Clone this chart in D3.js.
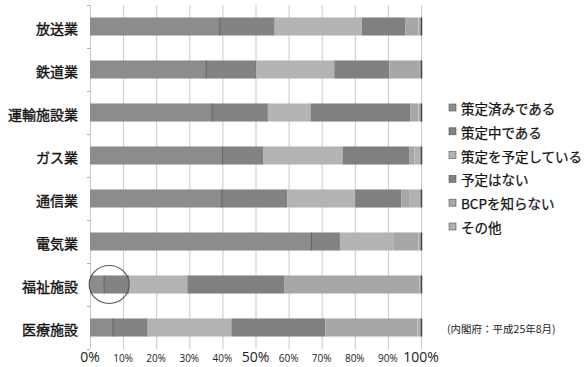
<!DOCTYPE html>
<html><head><meta charset="utf-8">
<script src="https://cdn.jsdelivr.net/npm/d3@7/dist/d3.min.js"></script>
<style>
html,body{margin:0;padding:0;background:#fff;}
svg{display:block;font-family:"Noto Sans CJK JP","Noto Sans",sans-serif;}
</style></head>
<body>
<svg id="chart" width="588" height="367"></svg>
<script>
const categories = ["放送業","鉄道業","運輸施設業","ガス業","通信業","電気業","福祉施設","医療施設"];
const seriesNames = ["策定済みである","策定中である","策定を予定している","予定はない","BCPを知らない","その他"];
const s1 = [39.2, 35.1, 36.9, 40.0, 39.8, 66.9, 4.3, 7.0];
const s2 = [16.3, 14.9, 16.6, 12.1, 19.5, 8.4, 7.3, 10.1];
const s3 = [26.6, 23.8, 13.1, 24.2, 20.8, 16.3, 17.8, 25.6];
const s4 = [13.1, 16.6, 30.1, 20.1, 13.9, 0.0, 29.4, 28.4];
const s5 = [4.0, 9.0, 2.5, 1.6, 2.4, 7.6, 40.7, 27.9];
const s6 = [0.8, 0.6, 0.8, 2.0, 3.6, 0.8, 0.5, 1.0];
const tickValues = [0,10,20,30,40,50,60,70,80,90,100];
const tickLabels = ["0%","10%","20%","30%","40%","50%","60%","70%","80%","90%","100%"];
const sourceNote = "(内閣府：平成25年8月)";
const circledCategory = "福祉施設";
const circledValue = 5.5;

const colors = ["#8c8c8c","#838383","#b4b4b4","#808080","#a7a7a7","#b1b1b1"];
const seriesVals = [s1,s2,s3,s4,s5,s6];

const rows = categories.map((c,i)=>{
  const o = {cat:c};
  seriesNames.forEach((s,j)=>o[s]=seriesVals[j][i]);
  return o;
});
const stacked = d3.stack().keys(seriesNames)(rows);

const svg = d3.select("#chart");
const x = d3.scaleLinear().domain([0,100]).range([90,421]);
const y = d3.scaleBand().domain(categories).range([5,349]).paddingInner(0.58).paddingOuter(0.29);

// gridlines
svg.append("g").selectAll("line").data(tickValues).join("line")
  .attr("x1",d=>x(d)+0.5).attr("x2",d=>x(d)+0.5)
  .attr("y1",5).attr("y2",349)
  .attr("stroke","#c9c9c9").attr("stroke-width",1);

// y axis ticks at band boundaries
const bounds = categories.map(c=>y(c)-y.step()*y.paddingInner()/2).concat([349]);
svg.append("g").selectAll("line").data(bounds).join("line")
  .attr("x1",87).attr("x2",90).attr("y1",d=>Math.round(d)+0.5).attr("y2",d=>Math.round(d)+0.5)
  .attr("stroke","#b0b0b0");

// bars
const g = svg.append("g");
stacked.forEach((layer,j)=>{
  g.append("g").selectAll("rect").data(layer).join("rect")
    .attr("x",d=>x(d[0]))
    .attr("width",d=>Math.max(0,x(d[1])-x(d[0])))
    .attr("y",d=>y(d.data.cat))
    .attr("height",y.bandwidth())
    .attr("fill",colors[j]);
});
// segment boundary lines (end of first two segments)
[0,1].forEach(j=>{
  g.append("g").selectAll("line").data(stacked[j]).join("line")
    .attr("x1",d=>x(d[1])).attr("x2",d=>x(d[1]))
    .attr("y1",d=>y(d.data.cat)).attr("y2",d=>y(d.data.cat)+y.bandwidth())
    .attr("stroke",j===0?"#4a4a4a":"#666").attr("stroke-width",1).attr("opacity",0.7);
});
// bar ends
g.append("g").selectAll("line").data(categories).join("line")
  .attr("x1",x(100)+0.5).attr("x2",x(100)+0.5)
  .attr("y1",d=>y(d)).attr("y2",d=>y(d)+y.bandwidth())
  .attr("stroke","#444").attr("stroke-width",1.5);

// category labels
svg.append("g").selectAll("text").data(categories).join("text")
  .attr("x",78).attr("y",d=>y(d)+y.bandwidth()/2+1)
  .attr("text-anchor","end").attr("dominant-baseline","central")
  .attr("font-size",14).attr("fill","#111")
  .attr("stroke","#111").attr("stroke-width",0.35).text(d=>d);

// x tick labels
svg.append("g").selectAll("text").data(tickValues).join("text")
  .attr("x",d=>x(d)).attr("y",362)
  .attr("text-anchor","middle")
  .attr("font-family","'Open Sans','Noto Sans',sans-serif")
  .attr("font-size",d=>(d===0||d===50||d===100)?14:10)
  .attr("fill","#222")
  .text((d,i)=>tickLabels[i]);

// legend
const lg = svg.append("g");
seriesNames.forEach((s,j)=>{
  const cy = 108 + j*23.8;
  lg.append("rect").attr("x",449).attr("y",cy-4).attr("width",7).attr("height",7)
    .attr("fill",colors[j]).attr("stroke","#555").attr("stroke-width",0.6);
  lg.append("text").attr("x",461).attr("y",cy).attr("dominant-baseline","central")
    .attr("font-size",13.5).attr("fill","#111")
    .attr("stroke","#111").attr("stroke-width",0.25).text(s);
});

// source note
svg.append("text").attr("x",447).attr("y",328).attr("dominant-baseline","central")
  .attr("font-size",10.5).attr("fill","#222").text(sourceNote);

// circle highlight
svg.append("ellipse")
  .attr("cx",x(circledValue)+1).attr("cy",y(circledCategory)+y.bandwidth()/2)
  .attr("rx",20).attr("ry",19)
  .attr("fill","none").attr("stroke","#555").attr("stroke-width",1.2);
</script>
</body></html>
